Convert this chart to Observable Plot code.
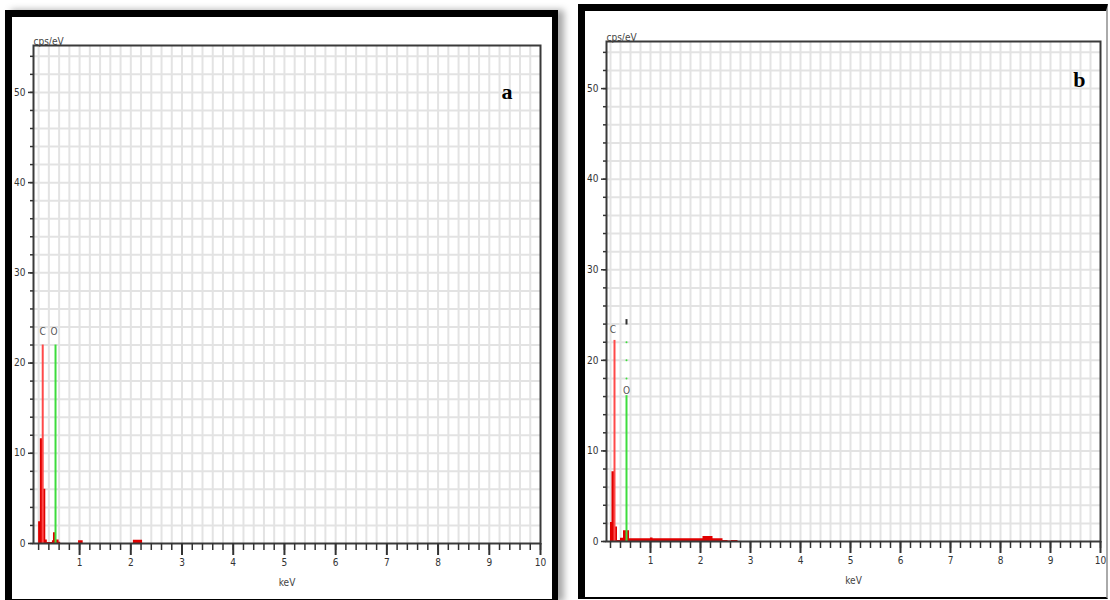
<!DOCTYPE html>
<html><head><meta charset="utf-8">
<script src="https://cdn.jsdelivr.net/npm/d3@7"></script>
<script src="https://cdn.jsdelivr.net/npm/@observablehq/plot@0.6"></script>
<style>
body{margin:0;width:1110px;height:600px;overflow:hidden;background:#fff;position:relative;}
.panel{position:absolute;box-sizing:border-box;border-style:solid;border-color:#000;}
#pa{left:5px;top:10px;width:553px;height:592px;border-width:7px 6px 3px 7px;box-shadow:6px 0 7px rgba(0,0,0,.35);}
#pb{left:578px;top:4px;width:530px;height:595px;border-width:7px 2px 2px 7px;border-right-color:#aaa;}
.chart{position:absolute;top:0;}
</style></head>
<body>
<div id="pa" class="panel"></div>
<div id="pb" class="panel"></div>
<div id="ca" class="chart" style="left:0"></div>
<div id="cb" class="chart" style="left:560px"></div>
<script>
// ---- data ----
const xMajorTicks = [1,2,3,4,5,6,7,8,9,10];
const yMajorTicks = [0,10,20,30,40,50];
const yAxisLabel = "cps/eV";
const xAxisLabel = "keV";

// panel a spectrum (energy keV, counts cps/eV), step-after
const energyA = [0.15,0.20,0.234,0.287,0.34,0.37,0.47,0.49,0.53,0.60,0.63,0.98,1.07,2.05,2.23];
const countsA = [0,   2.4, 11.6, 6.0,  0.4, 0.1, 0.3, 1.2, 0.4, 0.15,0,   0.3, 0,   0.35,0];
const elementsA = ["C","O"];
const elementEnergyA = [0.28, 0.53];
const elementHeightA = [22, 22];
const elementLabelYA = [23.5, 23.5];

// panel b spectrum
const energyB = [0.15,0.20,0.23,0.28,0.30,0.34,0.40,0.46,0.58,1.00,1.05,1.75,2.05,2.25,2.45,2.55,2.62,2.75];
const countsB = [0,   2.1, 7.7, 7.2, 1.6, 0.1, 0.35,1.2, 0.3, 0.4, 0.3, 0.3, 0.55,0.3, 0.12,0.05,0.1, 0];
const elementsB = ["C","O"];
const elementEnergyB = [0.28, 0.52];
const elementHeightB = [22.2, 16.1];
const elementLabelYB = [23.4, 16.6];
const oDottedB = [18, 20, 22];
const oTopMarkB = [24.2];

// ---- drawing ----
const xMinor = d3.range(1, 51).map(i => +(i * 0.2).toFixed(1));
const yMinor = d3.range(0, 28).map(i => i * 2);

function panel({xDomain, width, mL, mR, mT, mB, energy, counts, elements, eE, eH, eLY, letter, letterDx, letterDy, labelDx, extra}) {
  const spec = energy.map((e, i) => ({e, c: counts[i]}));
  const red = "#e00000", green = "#3ddc3d";
  return Plot.plot({
    width, height: 600,
    marginLeft: mL, marginRight: mR, marginTop: mT, marginBottom: mB,
    style: {fontFamily: "'Liberation Sans Narrow','DejaVu Sans Condensed',sans-serif", fontSize: "10px", color: "#333", background: "transparent", overflow: "visible"},
    x: {domain: xDomain},
    y: {domain: [0, 55.2]},
    marks: [
      Plot.gridX(xMinor.filter(d => d > xDomain[0] && d < 10), {stroke: "#e3e3e3", strokeOpacity: 1, strokeWidth: 2}),
      Plot.gridY(yMinor.filter(d => d > 0), {stroke: "#e3e3e3", strokeOpacity: 1, strokeWidth: 2}),
      Plot.areaY(spec, {x: "e", y: "c", curve: "step-after", fill: red}),
      Plot.ruleX([eE[0]], {y1: 0, y2: eH[0], stroke: "#ff4a4a", strokeWidth: 2}),
      Plot.ruleX([eE[1]], {y1: 0, y2: eH[1], stroke: green, strokeWidth: 2}),
      ...(extra || []),
      Plot.text(elements.map((t, i) => ({t, x: eE[i] + labelDx[i], y: eLY[i]})), {x: "x", y: "y", text: "t", fontSize: 10, fill: "#555"}),
      Plot.frame({stroke: "#3a3a3a", strokeWidth: 2}),
      Plot.axisX(xMajorTicks, {tickSize: 12, tickPadding: 3, label: null, strokeWidth: 2, fontSize: 10}),
      Plot.axisX(xMinor, {tickSize: 7, tickFormat: () => "", label: null, strokeWidth: 1.5}),
      Plot.axisY(yMajorTicks, {tickSize: 5, tickPadding: 3, label: null, strokeWidth: 1.5}),
      Plot.axisY(yMinor, {tickSize: 3, tickFormat: () => "", label: null, strokeWidth: 1.5}),
      Plot.text([yAxisLabel], {frameAnchor: "top-left", textAnchor: "start", dy: -8, fontSize: 10, fill: "#444"}),
      Plot.text([xAxisLabel], {frameAnchor: "bottom", dy: 42, fontSize: 10, fill: "#444"}),
      Plot.text([letter], {frameAnchor: "top-right", dx: letterDx, dy: letterDy, fontSize: 22, fontWeight: "bold", fontFamily: "'Liberation Serif',serif", fill: "#000"})
    ]
  });
}

document.getElementById("ca").append(panel({
  xDomain: [0.1, 10], width: 560, mL: 33, mR: 20, mT: 45, mB: 57,
  energy: energyA, counts: countsA, elements: elementsA, eE: elementEnergyA, eH: elementHeightA, eLY: elementLabelYA,
  labelDx: [0, -0.03],
  letter: "a", letterDx: -28, letterDy: 38
}));

document.getElementById("cb").append(panel({
  xDomain: [0.12, 10], width: 550, mL: 46, mR: 10, mT: 41, mB: 59,
  energy: energyB, counts: countsB, elements: elementsB, eE: elementEnergyB, eH: elementHeightB, eLY: elementLabelYB,
  labelDx: [-0.03, 0],
  letter: "b", letterDx: -15, letterDy: 30,
  extra: [
    Plot.dot(oDottedB, {x: () => elementEnergyB[1], y: d => d, r: 1, fill: "#3ddc3d", stroke: null}),
    Plot.ruleX(oTopMarkB, {x: () => elementEnergyB[1], y1: d => d - 0.3, y2: d => d + 0.3, stroke: "#333", strokeWidth: 2})
  ]
}));
</script>
</body></html>
